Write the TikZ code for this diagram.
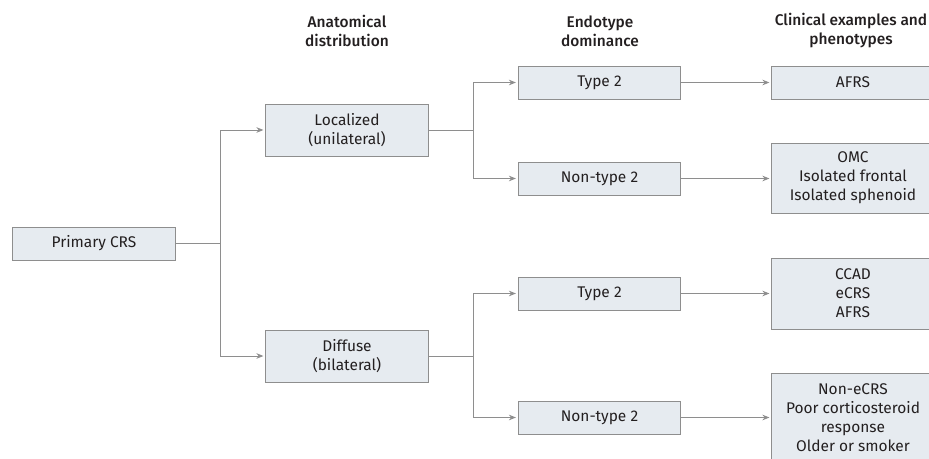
\documentclass[tikz,border=0pt]{standalone}
\usepackage{fontspec}
\setmainfont{Fira Sans}[BoldFont={Fira Sans Medium}]
\usetikzlibrary{arrows.meta}
\definecolor{boxfill}{HTML}{E6EBF0}
\definecolor{boxline}{HTML}{8E8E8E}
\definecolor{txt}{HTML}{231F20}

\begin{document}
\begin{tikzpicture}[x=0.025cm,y=-0.025cm,
  box/.style={draw=boxline,fill=boxfill,line width=0.7pt,minimum width=4.05cm,align=center,inner sep=1pt,text=txt,font=\fontsize{11}{13.5}\selectfont},
  head/.style={align=center,text=txt,font=\fontsize{11}{13.5}\selectfont\bfseries},
  conn/.style={draw=boxline,line width=0.7pt},
  arr/.style={conn,-{Stealth[length=5pt,width=4pt]},shorten >=1.5pt}]
\useasboundingbox (0,0) rectangle (929,459);
\clip (0,0) rectangle (929,459);
%\draw[help lines] (0,0) grid (929,459);
\foreach \x/\y/\n/\t in {347/31/hanat/{Anatomical\\distribution}, 600/31/hendo/{Endotype\\dominance}, 851/31/hclin/{Clinical examples and\\phenotypes}}
  \node[head] (\n) at (\x,\y) {\t};
\foreach \x/\y/\h/\n/\t in {94/243.5/33/prim/{Primary CRS}, 347/130/52/loc/{Localized\\(unilateral)}, 347/356/52/dif/{Diffuse\\(bilateral)},
    599.5/82.5/33/t2a/{Type 2}, 599.5/178.5/33/n2a/{Non-type 2}, 599.5/293.5/33/t2b/{Type 2}, 599.5/417.5/33/n2b/{Non-type 2},
    853/82.5/33/afrs/{AFRS}, 853/178/70/omc/{OMC\\Isolated frontal\\Isolated sphenoid}, 853/293.5/71/ccad/{CCAD\\eCRS\\AFRS},
    853/418/90/neg/{Non-eCRS\\Poor corticosteroid\\response\\Older or smoker}}
  \node[box,minimum height=\h*0.025cm] (\n) at (\x,\y) {\t};
\coordinate (s1) at (220,243.5);
\coordinate (s2) at (473,130);
\coordinate (s3) at (473,356);
\foreach \s/\t in {prim/s1, loc/s2, dif/s3}
  \draw[conn] (\s.east) -- (\t);
\foreach \s/\t in {s1/loc, s1/dif, s2/t2a, s2/n2a, s3/t2b, s3/n2b}
  \draw[arr] (\s) |- (\t.west);
\foreach \s/\t in {t2a/afrs, n2a/omc, t2b/ccad, n2b/neg}
  \draw[arr] (\s.east) -- (\s.east -| \t.west);
\end{tikzpicture}
\end{document}
